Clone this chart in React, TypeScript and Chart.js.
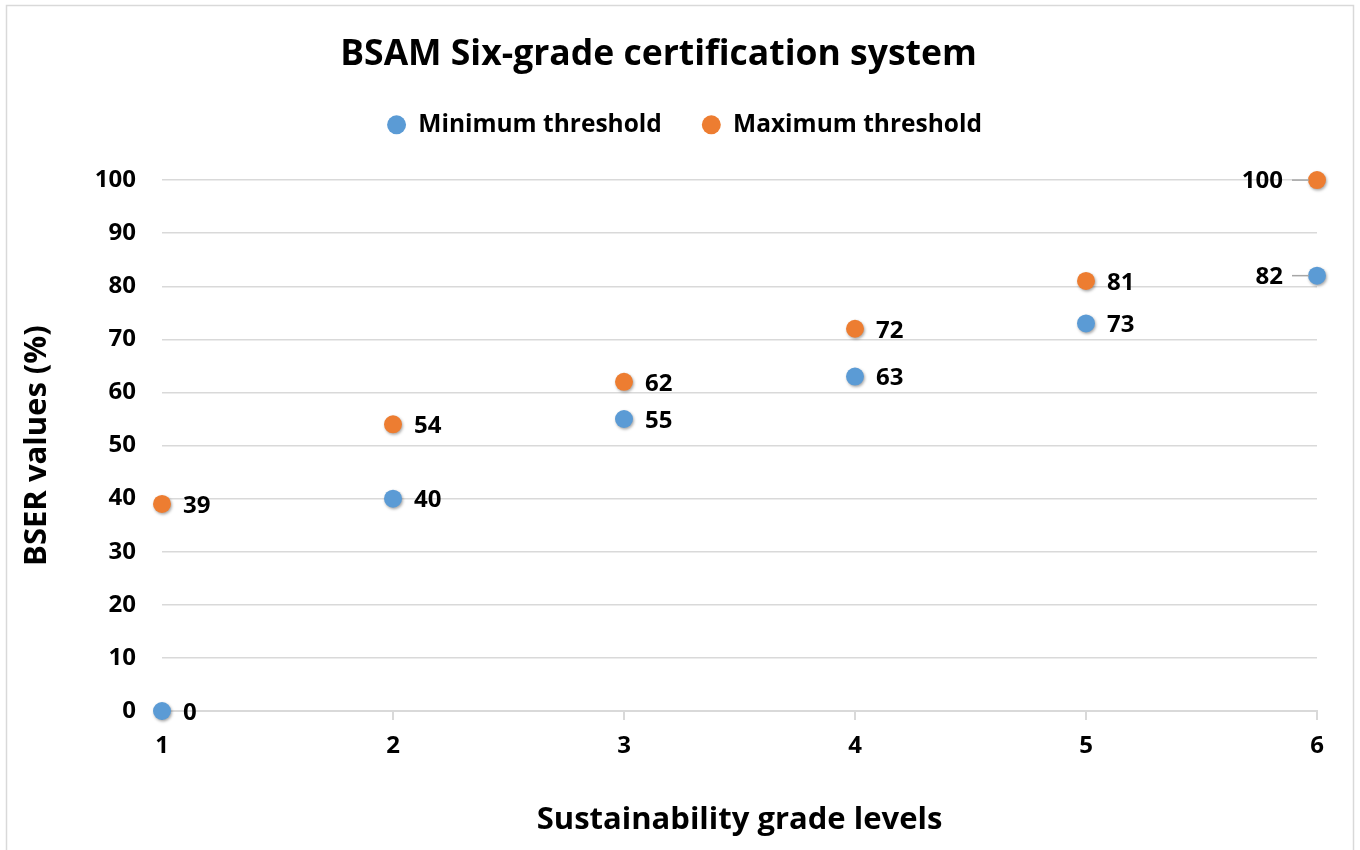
import React, { useEffect, useRef } from "react";
import { Chart, registerables } from "chart.js";

Chart.register(...registerables);

const grades = [1, 2, 3, 4, 5, 6];
const minValues = [0, 40, 55, 63, 73, 82];
const maxValues = [39, 54, 62, 72, 81, 100];
const seriesNames = ["Minimum threshold", "Maximum threshold"];
const yTicks = [0, 10, 20, 30, 40, 50, 60, 70, 80, 90, 100];

const FONT = "'Open Sans', 'Noto Sans', sans-serif";
const BLUE = "#5B9BD5";
const ORANGE = "#ED7D31";
const GRID = "#d9d9d9";

const borderPlugin = {
  id: "frame",
  beforeDraw(chart: any) {
    const ctx = chart.ctx;
    ctx.save();
    ctx.fillStyle = "#ffffff";
    ctx.fillRect(0, 0, chart.width, chart.height);
    ctx.strokeStyle = GRID;
    ctx.lineWidth = 1.5;
    ctx.strokeRect(6.5, 5.5, 1347, 900);
    ctx.restore();
  },
};

const legendSpacer = {
  id: "legendSpacer",
  beforeLayout(chart: any) {
    const lg = chart.legend;
    if (lg && !lg.__patched) {
      const origFit = lg.fit;
      lg.fit = function () {
        origFit.call(this);
        this.height += 33;
      };
      const origDraw = lg.draw;
      lg.draw = function () {
        const c = this.ctx;
        c.save();
        c.translate(26, 0);
        origDraw.call(this);
        c.restore();
      };
      lg.__patched = true;
    }
  },
};

const shadowAndLabels = {
  id: "shadowAndLabels",
  beforeDatasetsDraw(chart: any) {
    const ctx = chart.ctx;
    ctx.save();
    ctx.shadowColor = "rgba(0,0,0,0.35)";
    ctx.shadowBlur = 3;
    ctx.shadowOffsetX = 1;
    ctx.shadowOffsetY = 1.5;
  },
  afterDatasetsDraw(chart: any) {
    const ctx = chart.ctx;
    ctx.restore();
    ctx.save();
    ctx.font = `bold 24px ${FONT}`;
    ctx.fillStyle = "#000";
    ctx.textBaseline = "middle";
    chart.data.datasets.forEach((ds: any, di: number) => {
      const meta = chart.getDatasetMeta(di);
      meta.data.forEach((pt: any, i: number) => {
        const v = ds.data[i].y;
        const last = i === ds.data.length - 1;
        if (last) {
          ctx.strokeStyle = "#a6a6a6";
          ctx.lineWidth = 1.5;
          ctx.beginPath();
          ctx.moveTo(pt.x - 25, pt.y);
          ctx.lineTo(pt.x - 8, pt.y);
          ctx.stroke();
          ctx.textAlign = "right";
          ctx.fillText(String(v), pt.x - 34, pt.y + 1);
        } else {
          ctx.textAlign = "left";
          ctx.fillText(String(v), pt.x + 21, pt.y + 2);
        }
      });
    });
    ctx.restore();
  },
};

export default function App() {
  const ref = useRef<HTMLCanvasElement | null>(null);
  useEffect(() => {
    if (!ref.current) return;
    const chart = new Chart(ref.current, {
      type: "scatter",
      data: {
        datasets: [
          {
            label: seriesNames[0],
            data: grades.map((g, i) => ({ x: g, y: minValues[i] })),
            backgroundColor: BLUE,
            borderColor: BLUE,
            pointRadius: 9,
            pointHoverRadius: 9,
            borderWidth: 0,
            clip: false as any,
          },
          {
            label: seriesNames[1],
            data: grades.map((g, i) => ({ x: g, y: maxValues[i] })),
            backgroundColor: ORANGE,
            borderColor: ORANGE,
            pointRadius: 9,
            pointHoverRadius: 9,
            borderWidth: 0,
            clip: false as any,
          },
        ],
      },
      options: {
        responsive: false,
        animation: false,
        devicePixelRatio: 1,
        layout: { padding: { left: 0, right: 43, top: 0, bottom: 0 } },
        plugins: {
          tooltip: { enabled: false },
          title: {
            display: true,
            text: "BSAM Six-grade certification system",
            color: "#000",
            font: { family: FONT, size: 35.5, weight: "bold" },
            padding: { top: 34, bottom: -4 },
          },
          legend: {
            display: true,
            position: "top",
            labels: {
              usePointStyle: true,
              pointStyle: "circle",
              boxHeight: 13.4,
              pointStyleWidth: 19,
              padding: 40,
              color: "#000",
              font: { family: FONT, size: 24.5, weight: "bold" },
            },
          },
        },
        scales: {
          x: {
            type: "linear",
            min: 1,
            max: 6,
            afterBuildTicks(scale: any) {
              scale.ticks = grades.map((g) => ({ value: g }));
            },
            afterFit(scale: any) {
              scale.height = 139;
            },
            ticks: {
              color: "#000",
              font: { family: FONT, size: 24, weight: "bold" },
              padding: 12,
              maxRotation: 0,
            },
            grid: {
              drawOnChartArea: false,
              drawTicks: true,
              tickLength: 9,
              color: GRID,
              lineWidth: 2,
            },
            border: { display: true, color: GRID, width: 2 },
            title: {
              display: true,
              text: "Sustainability grade levels",
              color: "#000",
              font: { family: FONT, size: 31, weight: "bold" },
              padding: { top: 0, bottom: 11 },
            },
          },
          y: {
            min: 0,
            max: 100,
            afterBuildTicks(scale: any) {
              scale.ticks = yTicks.map((v) => ({ value: v }));
            },
            afterFit(scale: any) {
              scale.width = 162;
            },
            ticks: {
              color: "#000",
              font: { family: FONT, size: 24, weight: "bold" },
              padding: 26,
            },
            grid: {
              drawTicks: false,
              color: GRID,
              lineWidth: 1.5,
            },
            border: { display: false },
            title: {
              display: true,
              text: "BSER values (%)",
              color: "#000",
              font: { family: FONT, size: 31, weight: "bold" },
              padding: { top: 19, bottom: 0 },
            },
          },
        },
      },
      plugins: [borderPlugin, legendSpacer, shadowAndLabels],
    });
    return () => chart.destroy();
  }, []);
  return (
    <div style={{ position: "fixed", left: 0, top: 0, width: 1360, height: 850 }}>
      <canvas ref={ref} width={1360} height={850} style={{ width: 1360, height: 850 }} />
    </div>
  );
}
